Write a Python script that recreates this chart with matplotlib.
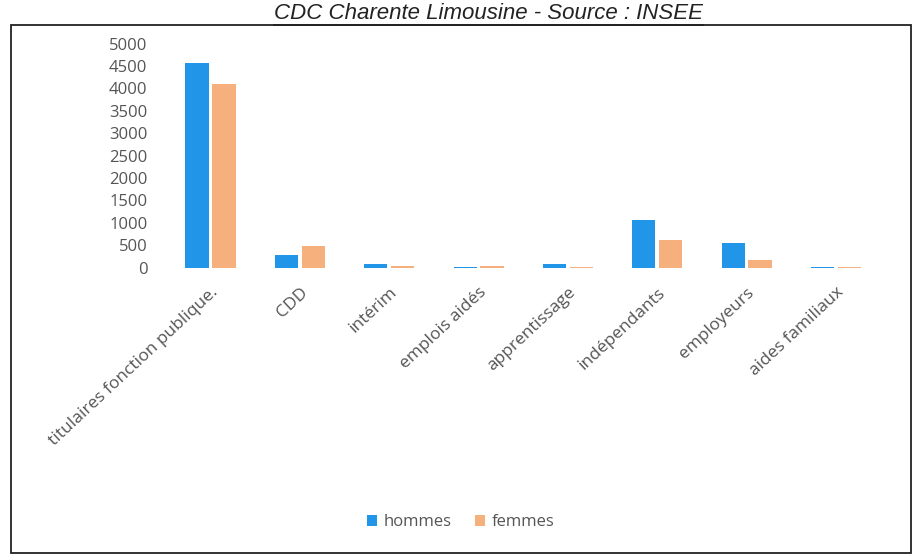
import matplotlib.pyplot as plt
import numpy as np
from matplotlib.patches import Rectangle

# Emplois par statut et par sexe - CDC Charente Limousine
categories = ["titulaires fonction publique.", "CDD", "intérim", "emplois aidés",
              "apprentissage", "indépendants", "employeurs", "aides familiaux"]
hommes = [4560, 280, 90, 20, 90, 1070, 560, 10]
femmes = [4090, 490, 40, 40, 10, 620, 180, 5]
yticks = [0, 500, 1000, 1500, 2000, 2500, 3000, 3500, 4000, 4500, 5000]

blue = "#2196E8"
orange = "#F6B07E"
grey = "#555555"

plt.rcParams['font.family'] = ['Open Sans', 'DejaVu Sans']

fig = plt.figure(figsize=(9.22, 5.6), dpi=100)
ax = fig.add_axes([0.175, 0.522, 0.785, 0.40])

x = np.arange(len(categories))
ax.bar(x - 0.15, hommes, width=0.26, color=blue, label="hommes")
ax.bar(x + 0.15, femmes, width=0.26, color=orange, label="femmes")

ax.set_ylim(0, 5000)
ax.set_xlim(-0.55, len(categories) - 0.45)
ax.set_yticks(yticks)
ax.set_yticklabels([str(v) for v in yticks], fontsize=12, color=grey)
ax.set_xticks(x)
ax.set_xticklabels(categories, rotation=43, ha="right", rotation_mode="anchor",
                   fontsize=12.5, color=grey)
ax.tick_params(axis="y", length=0, pad=10)
ax.tick_params(axis="x", length=0, pad=12)
for s in ax.spines.values():
    s.set_visible(False)

# titre souligné en italique
title = fig.text(0.53, 0.976, "CDC Charente Limousine - Source : INSEE", ha="center", va="center",
                 fontsize=16, style="italic", family="Liberation Sans", color="#222222")
fig.canvas.draw()
bb = title.get_window_extent().transformed(fig.transFigure.inverted())
fig.add_artist(plt.Line2D([bb.x0, bb.x1], [0.955, 0.955], color="#222222", lw=1.3))

# cadre du graphique
fig.add_artist(Rectangle((0.012, 0.012), 0.976, 0.943, fill=False,
                         edgecolor="#222222", lw=1.3, transform=fig.transFigure))

leg = fig.legend(loc="center", bbox_to_anchor=(0.5, 0.067), ncol=2, frameon=False,
                 fontsize=12, handlelength=0.6, handleheight=0.6, columnspacing=1.4,
                 handletextpad=0.4)
for t in leg.get_texts():
    t.set_color(grey)

fig.savefig("out.png", dpi=100)
